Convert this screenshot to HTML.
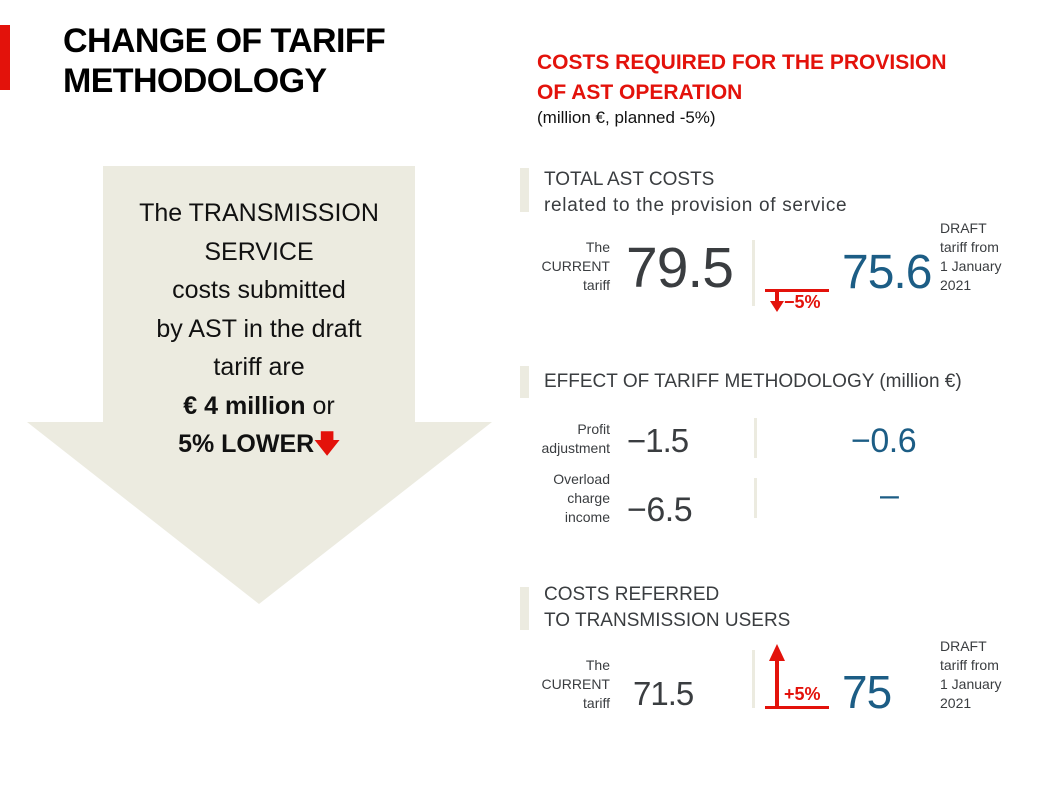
<!DOCTYPE html>
<html><head><meta charset="utf-8"><style>
body{margin:0;width:1039px;height:800px;background:#fff;position:relative;overflow:hidden;font-family:"Liberation Sans",sans-serif;color:#3a3d40}
div,span{position:absolute;white-space:nowrap}
.r{text-align:right}
.sm{font-size:14px;line-height:19px}
.blue{color:#1c5d85}
.bar{background:#ecebe0}
.red{color:#e3120b}
</style></head><body>
<div style="left:0;top:25px;width:10px;height:65px;background:#e3120b"></div>
<div style="left:63px;top:21px;font-size:34px;line-height:40px;font-weight:bold;color:#000;letter-spacing:-0.6px">CHANGE OF TARIFF<br>METHODOLOGY</div>

<svg style="position:absolute;left:0;top:0" width="500" height="620"><polygon points="103,166 415,166 415,422 492,422 259,604 27,422 103,422" fill="#ecebe0"/></svg>
<div style="left:109px;top:194px;width:300px;text-align:center;font-size:25px;line-height:38.5px;color:#111">The TRANSMISSION<br>SERVICE<br>costs submitted<br>by AST in the draft<br>tariff are<br><b>€ 4 million</b> or<br><b>5% LOWER</b><span style="position:static;color:#e3120b;font-weight:bold">&#129095;</span></div>

<div class="red" style="left:537px;top:48px;font-size:21px;line-height:30px;font-weight:bold">COSTS REQUIRED FOR THE PROVISION<br>OF AST OPERATION</div>
<div style="left:537px;top:108px;font-size:17px;color:#111">(million €, planned -5%)</div>

<div class="bar" style="left:520px;top:168px;width:9px;height:44px"></div>
<div style="left:544px;top:167px;font-size:19px;line-height:26px">TOTAL AST COSTS<br><span style="position:static;letter-spacing:0.7px">related to the provision of service</span></div>
<div class="r sm" style="left:540px;width:70px;top:238px">The<br>CURRENT<br>tariff</div>
<div style="left:626px;top:236px;font-size:57px;line-height:64px;letter-spacing:-1px">79.5</div>
<div class="bar" style="left:752px;top:240px;width:3px;height:66px"></div>
<div style="left:765px;top:289px;width:64px;height:3px;background:#e3120b"></div>
<svg style="position:absolute;left:769px;top:291px" width="16" height="22"><rect x="6" y="0" width="4" height="12" fill="#e3120b"/><polygon points="1,10 15,10 8,21" fill="#e3120b"/></svg>
<div class="red" style="left:784px;top:292px;font-size:18px;font-weight:bold">−5%</div>
<div class="blue" style="left:842px;top:245px;font-size:48px;line-height:56px;letter-spacing:-1px">75.6</div>
<div class="sm" style="left:940px;top:219px">DRAFT<br>tariff from<br>1 January<br>2021</div>

<div class="bar" style="left:520px;top:366px;width:9px;height:32px"></div>
<div style="left:544px;top:371px;font-size:19px">EFFECT OF TARIFF METHODOLOGY (million €)</div>
<div class="r sm" style="left:520px;width:90px;top:420px">Profit<br>adjustment</div>
<div style="left:627px;top:421px;font-size:33px;line-height:40px;letter-spacing:-1px">−1.5</div>
<div class="bar" style="left:754px;top:418px;width:3px;height:40px"></div>
<div class="blue" style="left:851px;top:421px;font-size:34px;line-height:40px;letter-spacing:-0.5px">−0.6</div>
<div class="r sm" style="left:520px;width:90px;top:470px">Overload<br>charge<br>income</div>
<div style="left:627px;top:490px;font-size:34px;line-height:40px;letter-spacing:-0.5px">−6.5</div>
<div class="bar" style="left:754px;top:478px;width:3px;height:40px"></div>
<div class="blue" style="left:880px;top:475px;font-size:34px;line-height:40px">–</div>

<div class="bar" style="left:520px;top:587px;width:9px;height:43px"></div>
<div style="left:544px;top:582px;font-size:19px;line-height:26px">COSTS REFERRED<br>TO TRANSMISSION USERS</div>
<div class="r sm" style="left:540px;width:70px;top:656px">The<br>CURRENT<br>tariff</div>
<div style="left:633px;top:674px;font-size:33px;line-height:40px;letter-spacing:-1px">71.5</div>
<div class="bar" style="left:752px;top:650px;width:3px;height:58px"></div>
<svg style="position:absolute;left:768px;top:643px" width="18" height="66"><polygon points="1,18 17,18 9,1" fill="#e3120b"/><rect x="7" y="16" width="4" height="50" fill="#e3120b"/></svg>
<div style="left:765px;top:706px;width:64px;height:3px;background:#e3120b"></div>
<div class="red" style="left:784px;top:684px;font-size:18px;font-weight:bold">+5%</div>
<div class="blue" style="left:842px;top:666px;font-size:46px;line-height:52px;letter-spacing:-1px">75</div>
<div class="sm" style="left:940px;top:637px">DRAFT<br>tariff from<br>1 January<br>2021</div>
</body></html>
